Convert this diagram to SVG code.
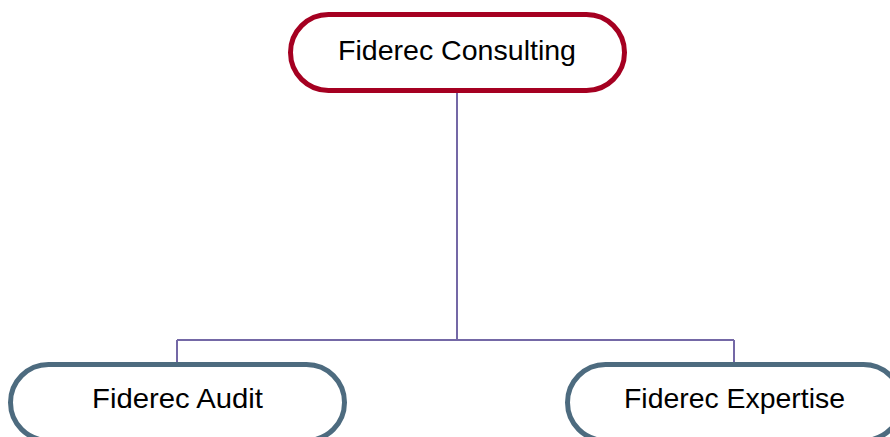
<svg xmlns="http://www.w3.org/2000/svg" width="890" height="437" viewBox="0 0 890 437">
<style>
.node rect{fill:#fff;stroke-width:5}
.top rect{stroke:#A50021}
.sub rect{stroke:#4D6B7F}
text{font-family:"Liberation Sans",Arial,sans-serif;font-size:28px;fill:#000;text-anchor:middle}
.conn path{fill:none;stroke:#7468A6;stroke-width:2}
</style>
<rect width="890" height="437" fill="#fff"/>
<g class="conn" id="connectors">
<path d="M457 92V340M177 340H734M177 340V364M734 340V364"/>
</g>
<g id="node-consulting" class="node top">
<rect x="290.5" y="14.5" width="334" height="76" rx="38" ry="38"/>
<text x="457" y="60" textLength="238" lengthAdjust="spacingAndGlyphs">Fiderec Consulting</text>
</g>
<g id="node-audit" class="node sub">
<rect x="10.5" y="364.5" width="334" height="76" rx="38" ry="38"/>
<text x="177.5" y="408" textLength="171" lengthAdjust="spacingAndGlyphs">Fiderec Audit</text>
</g>
<g id="node-expertise" class="node sub">
<rect x="567.5" y="364.5" width="334" height="76" rx="38" ry="38"/>
<text x="734.5" y="408" textLength="221" lengthAdjust="spacingAndGlyphs">Fiderec Expertise</text>
</g>
</svg>
